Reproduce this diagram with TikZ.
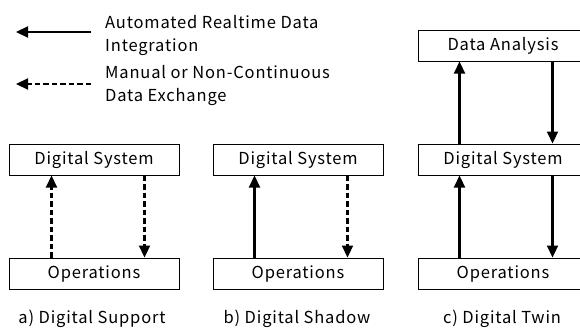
\documentclass[tikz,border=0pt]{standalone}
\usepackage{fontspec}
\setmainfont{Noto Sans CJK JP}[LetterSpace=5]
\usetikzlibrary{arrows.meta,calc}
\tikzset{
  box/.style={draw, line width=1pt, minimum width=170pt, minimum height=31pt, inner sep=0pt, font=\fontsize{16.5}{20}\selectfont},
  solidarrow/.style={line width=2.2pt, -{Triangle[width=11pt,length=12pt]}},
  dasharrow/.style={line width=2.2pt, dash pattern=on 5.5pt off 3pt, -{Triangle[width=11pt,length=12pt]}},
  lbl/.style={font=\fontsize{16.5}{23}\selectfont, align=left, inner sep=0pt, anchor=west},
  captext/.style={font=\fontsize{16.5}{20}\selectfont, inner sep=0pt}
}
\begin{document}
\begin{tikzpicture}[x=1pt,y=-1pt]
\useasboundingbox (0,0) rectangle (580,327);
\clip (0,0) rectangle (580,327);
% legend
\coordinate (l1s) at (91,32);
\coordinate (l1e) at (16,32);
\coordinate (l2s) at (91,84);
\coordinate (l2e) at (16,84);
\draw[solidarrow] (l1s) -- (l1e);
\draw[dasharrow] (l2s) -- (l2e);
\node[lbl] (t1) at (105,35) {Automated Realtime Data\\Integration};
\node[lbl] (t2) at (105,85) {Manual or Non-Continuous\\Data Exchange};
% a
\node[box] (dsA) at (94,159.5) {Digital System};
\node[box] (opA) at (94,273.5) {Operations};
\draw[dasharrow] ($(opA.north west)+(43,0)$) -- ($(dsA.south west)+(43,0)$);
\draw[dasharrow] ($(dsA.south west)+(136,0)$) -- ($(opA.north west)+(136,0)$);
\node[captext] (capA) at (92,319) {a) Digital Support};
% b
\node[box] (dsB) at (298,159.5) {Digital System};
\node[box] (opB) at (298,273.5) {Operations};
\draw[solidarrow] ($(opB.north west)+(42,0)$) -- ($(dsB.south west)+(42,0)$);
\draw[dasharrow] ($(dsB.south west)+(135,0)$) -- ($(opB.north west)+(135,0)$);
\node[captext] (capB) at (297,319) {b) Digital Shadow};
% c
\node[box] (daC) at (503,45.5) {Data Analysis};
\node[box] (dsC) at (503,159.5) {Digital System};
\node[box] (opC) at (503,273.5) {Operations};
\draw[solidarrow] ($(opC.north west)+(42,0)$) -- ($(dsC.south west)+(42,0)$);
\draw[solidarrow] ($(dsC.north west)+(42,0)$) -- ($(daC.south west)+(42,0)$);
\draw[solidarrow] ($(daC.south west)+(135,0)$) -- ($(dsC.north west)+(135,0)$);
\draw[solidarrow] ($(dsC.south west)+(135,0)$) -- ($(opC.north west)+(135,0)$);
\node[captext] (capC) at (502,319) {c) Digital Twin};
\end{tikzpicture}
\end{document}
